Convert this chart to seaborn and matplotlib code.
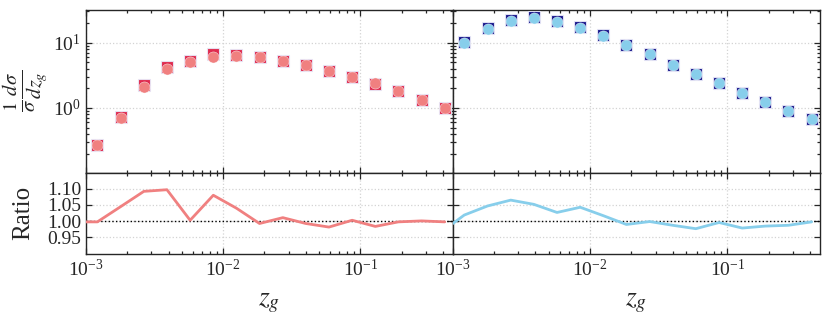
import matplotlib
matplotlib.use("Agg")
import matplotlib.pyplot as plt
import matplotlib.ticker as mticker
import seaborn as sns

# bin centres in z_g (log spaced)
z_g = [0.00121, 0.00179, 0.00264, 0.00389, 0.00574, 0.00847, 0.0125, 0.0184,
       0.0272, 0.0400, 0.0590, 0.0871, 0.1285, 0.189, 0.279, 0.412]

# top panels: normalised distributions
left_squares = [0.270, 0.726, 2.26, 4.29, 5.14, 6.59, 6.44, 5.94,
                5.30, 4.48, 3.61, 3.00, 2.35, 1.82, 1.33, 1.00]
left_circles = [0.271, 0.695, 2.07, 3.91, 5.12, 6.10, 6.19, 5.98,
                5.24, 4.51, 3.68, 2.99, 2.39, 1.82, 1.33, 1.00]
right_squares = [10.19, 16.96, 22.37, 24.83, 21.05, 17.52, 13.02, 9.13,
                 6.63, 4.54, 3.27, 2.38, 1.67, 1.23, 0.889, 0.678]
right_circles = [10.0, 16.2, 21.0, 23.6, 20.5, 16.8, 12.8, 9.22,
                 6.64, 4.60, 3.35, 2.39, 1.71, 1.25, 0.90, 0.679]

# bottom panels: ratio lines
ratio_z = [0.001, 0.00121, 0.00179, 0.00264, 0.00389, 0.00574, 0.00847, 0.0125,
           0.0184, 0.0272, 0.0400, 0.0590, 0.0871, 0.1285, 0.189, 0.279, 0.412]
left_ratio = [0.998, 0.998, 1.045, 1.092, 1.097, 1.003, 1.080, 1.040, 0.993,
              1.011, 0.993, 0.982, 1.003, 0.984, 0.998, 1.001, 0.998]
right_ratio = [0.993, 1.019, 1.047, 1.065, 1.052, 1.027, 1.043, 1.017, 0.990,
               0.999, 0.9875, 0.977, 0.996, 0.979, 0.985, 0.9875, 0.998]

sns.set_style("ticks")
plt.rcParams["font.family"] = ["Liberation Serif", "DejaVu Serif"]
plt.rcParams["mathtext.fontset"] = "stix"
plt.rcParams["axes.linewidth"] = 1.0

fig = plt.figure(figsize=(8.31, 3.19), dpi=100)
x0, x1, w = 0.1035, 0.5450, 0.4416
top_b, top_h = 0.4592, 0.5110
bot_b, bot_h = 0.2047, 0.2545

ax_tl = fig.add_axes([x0, top_b, w, top_h])
ax_tr = fig.add_axes([x1, top_b, w, top_h], sharey=ax_tl)
ax_bl = fig.add_axes([x0, bot_b, w, bot_h], sharex=ax_tl)
ax_br = fig.add_axes([x1, bot_b, w, bot_h], sharex=ax_tr)

panels = [
    (ax_tl, ax_bl, left_squares, left_circles, left_ratio, "crimson", "lightcoral"),
    (ax_tr, ax_br, right_squares, right_circles, right_ratio, "navy", "skyblue"),
]

for ax_t, ax_b, sq, ci, rat, c_sq, c_ci in panels:
    sns.scatterplot(x=z_g, y=sq, marker="s", color=c_sq, s=66, linewidth=0.8,
                    edgecolor="#e8e8f8", alpha=0.9, ax=ax_t, zorder=3)
    sns.scatterplot(x=z_g, y=ci, marker="o", color=c_ci, s=64, linewidth=0.3,
                    edgecolor="white", ax=ax_t, zorder=4)
    sns.lineplot(x=ratio_z, y=rat, color=c_ci, lw=2, ax=ax_b, zorder=3)
    ax_b.axhline(1.0, color="black", ls=":", lw=1, zorder=2)

    for ax in (ax_t, ax_b):
        ax.set_xscale("log")
        ax.set_xlim(1e-3, 0.473)
        ax.grid(which="major", ls=":", color="lightgray", lw=0.9)
        ax.tick_params(which="both", direction="in", top=True, right=True,
                       labelsize=14, width=0.9)
        ax.tick_params(which="major", length=4)
        ax.tick_params(which="minor", length=2.5)
        ax.set_xlabel("")
        ax.set_ylabel("")

    ax_t.set_yscale("log")
    ax_t.tick_params(labelbottom=False)

    ax_b.set_ylim(0.9, 1.15)
    ax_b.yaxis.set_major_locator(mticker.FixedLocator([0.95, 1.00, 1.05, 1.10]))
    ax_b.yaxis.set_major_formatter(mticker.FormatStrFormatter("%.2f"))
    ax_b.yaxis.set_minor_locator(mticker.NullLocator())
    ax_b.set_xlabel(r"$z_g$", fontsize=20)
    ax_b.xaxis.set_label_coords(0.5, -0.45)

ax_tl.set_ylim(0.103, 32)
ax_tr.tick_params(labelleft=False)
ax_br.tick_params(labelleft=False)

ax_tl.set_ylabel(r"$\frac{1}{\sigma}\frac{d\sigma}{dz_g}$", fontsize=21)
ax_tl.yaxis.set_label_coords(-0.098, 0.5)
ax_bl.set_ylabel("Ratio", fontsize=18)
ax_bl.yaxis.set_label_coords(-0.142, 0.5)

plt.savefig("out.png", dpi=100)
plt.close()
